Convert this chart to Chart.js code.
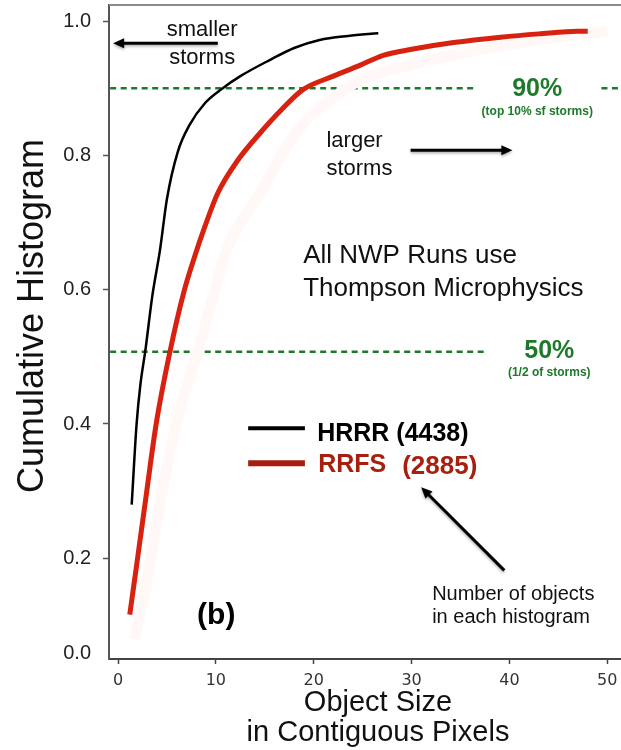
<!DOCTYPE html>
<html>
<head>
<meta charset="utf-8">
<script src="https://cdn.jsdelivr.net/npm/chart.js@4.4.1/dist/chart.umd.min.js"></script>
<style>
  html, body { margin: 0; padding: 0; background: #fff; }
  canvas { display: block; }
</style>
</head>
<body>
<canvas id="cdf" width="621" height="750"></canvas>
<script>
// cumulative histograms of object size (contiguous pixels)
const hrrrX = [1.4, 1.9, 2.3, 2.8, 3.5, 4.3, 5.0, 6.1, 7.3, 8.9, 10.6, 12.5, 15.5, 18, 20.6, 23.5, 26.6];
const hrrrY = [0.28, 0.40, 0.46, 0.51, 0.59, 0.66, 0.735, 0.805, 0.845, 0.878, 0.899, 0.918, 0.942, 0.96, 0.972, 0.978, 0.982];

const rrfsX = [1.2, 2.0, 2.8, 3.9, 5.3, 6.7, 7.8, 8.9, 10.2, 12.2, 14.5, 16.7, 18.9, 22.0, 24.7, 27.1, 30, 34.3, 39.1, 43, 47, 48];
const rrfsY = [0.116, 0.20, 0.285, 0.40, 0.507, 0.595, 0.648, 0.695, 0.744, 0.792, 0.833, 0.868, 0.898, 0.918, 0.934, 0.949, 0.958, 0.968, 0.976, 0.981, 0.985, 0.985];

// faint earlier RRFS run left under the curves
const oldX = [1.7, 3.0, 4.5, 6.3, 8.2, 9.8, 11.1, 14.5, 18.6, 22.7, 24.7, 30, 36, 42, 46, 50];
const oldY = [0.08, 0.17, 0.30, 0.42, 0.51, 0.595, 0.659, 0.744, 0.842, 0.893, 0.912, 0.935, 0.955, 0.97, 0.978, 0.985];

const xTicks = [0, 10, 20, 30, 40, 50];
const yTicks = [0.058, 0.2, 0.4, 0.6, 0.8, 1.0];
const yTickLabels = ['0.0', '0.2', '0.4', '0.6', '0.8', '1.0'];

const top10 = 0.9;   // 90% line
const half = 0.5075; // 50% line

const pts = (xs, ys) => xs.map((v, i) => ({x: v, y: ys[i]}));

const SANS = 'Liberation Sans, Arial, Helvetica, sans-serif';
const GREEN = '#1d7a2b';
const DARKRED = '#a61f0f';

function arrow(ctx, x0, y0, x1, y1) {
  const a = Math.atan2(y1 - y0, x1 - x0);
  const head = 11, wing = 5;
  ctx.save();
  ctx.shadowColor = 'rgba(0,0,0,0.35)';
  ctx.shadowBlur = 3;
  ctx.shadowOffsetY = 1.5;
  ctx.strokeStyle = '#000';
  ctx.fillStyle = '#000';
  ctx.lineWidth = 3;
  ctx.beginPath();
  ctx.moveTo(x0, y0);
  ctx.lineTo(x1 - Math.cos(a) * head * 0.8, y1 - Math.sin(a) * head * 0.8);
  ctx.stroke();
  ctx.beginPath();
  ctx.moveTo(x1, y1);
  ctx.lineTo(x1 - Math.cos(a) * head - Math.sin(a) * wing, y1 - Math.sin(a) * head + Math.cos(a) * wing);
  ctx.lineTo(x1 - Math.cos(a) * head + Math.sin(a) * wing, y1 - Math.sin(a) * head - Math.cos(a) * wing);
  ctx.closePath();
  ctx.fill();
  ctx.restore();
}

function text(ctx, str, x, y, font, color, align) {
  ctx.font = font;
  ctx.fillStyle = color;
  ctx.textAlign = align || 'left';
  ctx.textBaseline = 'alphabetic';
  ctx.fillText(str, x, y);
}

const notes = {
  id: 'notes',
  afterDatasetsDraw(chart) {
    const {ctx, scales} = chart;
    const X = v => scales.x.getPixelForValue(v);
    const Y = v => scales.y.getPixelForValue(v);
    ctx.save();

    // top frame line
    ctx.strokeStyle = '#8a8a8a';
    ctx.lineWidth = 2;
    ctx.beginPath();
    ctx.moveTo(chart.chartArea.left, chart.chartArea.top);
    ctx.lineTo(chart.chartArea.right, chart.chartArea.top);
    ctx.stroke();

    text(ctx, 'smaller', X(8.6), Y(0.978), '22px ' + SANS, '#111', 'center');
    text(ctx, 'storms', X(8.6), Y(0.936), '22px ' + SANS, '#111', 'center');
    arrow(ctx, X(10.2), Y(0.967), X(-0.5), Y(0.967));

    text(ctx, 'larger', X(21.3), Y(0.8123), '22px ' + SANS, '#111');
    text(ctx, 'storms', X(21.3), Y(0.7706), '22px ' + SANS, '#111');
    arrow(ctx, X(29.9), Y(0.8078), X(40.3), Y(0.8078));

    text(ctx, '90%', X(42.84), Y(0.888), 'bold 25px ' + SANS, GREEN, 'center');
    text(ctx, '(top 10% sf storms)', X(42.84), Y(0.86), 'bold 12px ' + SANS, GREEN, 'center');
    text(ctx, '50%', X(44.07), Y(0.498), 'bold 25px ' + SANS, GREEN, 'center');
    text(ctx, '(1/2 of storms)', X(44.07), Y(0.471), 'bold 12px ' + SANS, GREEN, 'center');

    text(ctx, 'All NWP Runs use', X(18.92), Y(0.6395), '26px ' + SANS, '#111');
    text(ctx, 'Thompson Microphysics', X(18.92), Y(0.590), '26px ' + SANS, '#111');

    // legend
    ctx.lineCap = 'butt';
    ctx.strokeStyle = '#000';
    ctx.lineWidth = 4;
    ctx.beginPath();
    ctx.moveTo(X(13.3), Y(0.3937));
    ctx.lineTo(X(19.1), Y(0.3937));
    ctx.stroke();
    ctx.strokeStyle = DARKRED;
    ctx.lineWidth = 6;
    ctx.beginPath();
    ctx.moveTo(X(13.3), Y(0.3415));
    ctx.lineTo(X(19.1), Y(0.3415));
    ctx.stroke();
    text(ctx, 'HRRR (4438)', X(20.35), Y(0.3743), 'bold 25px ' + SANS, '#000');
    text(ctx, 'RRFS', X(20.45), Y(0.328), 'bold 25px ' + SANS, DARKRED);
    text(ctx, '(2885)', X(29.04), Y(0.326), 'bold 26px ' + SANS, DARKRED);
    arrow(ctx, X(39.47), Y(0.182), X(30.98), Y(0.3058));

    text(ctx, 'Number of objects', X(32.1), Y(0.1374), '20px ' + SANS, '#111');
    text(ctx, 'in each histogram', X(32.1), Y(0.1032), '20px ' + SANS, '#111');

    text(ctx, '(b)', X(8.08), Y(0.1017), 'bold 30px ' + SANS, '#000');

    // axis titles
    text(ctx, 'Object Size', 378, 711, '29px ' + SANS, '#111', 'center');
    text(ctx, 'in Contiguous Pixels', 378, 741, '29px ' + SANS, '#111', 'center');
    ctx.save();
    ctx.translate(43, 316);
    ctx.rotate(-Math.PI / 2);
    text(ctx, 'Cumulative Histogram', 0, 0, '36px ' + SANS, '#111', 'center');
    ctx.restore();

    ctx.restore();
  }
};

new Chart(document.getElementById('cdf').getContext('2d'), {
  type: 'line',
  data: {
    datasets: [
      {
        label: 'HRRR',
        data: pts(hrrrX, hrrrY),
        borderColor: '#000',
        borderWidth: 2.5,
        pointRadius: 0,
        cubicInterpolationMode: 'monotone'
      },
      {
        label: 'RRFS',
        data: pts(rrfsX, rrfsY),
        borderColor: '#d8210f',
        borderWidth: 5,
        pointRadius: 0,
        cubicInterpolationMode: 'monotone'
      },
      {
        label: 'old',
        data: pts(oldX, oldY),
        borderColor: '#fff8f7',
        borderWidth: 11,
        pointRadius: 0,
        cubicInterpolationMode: 'monotone'
      },
      {
        label: '90%',
        data: [{x: -0.8, y: top10}, {x: 36.3, y: top10}, {x: 42, y: null}, {x: 49.4, y: top10}, {x: 51.4, y: top10}],
        borderColor: GREEN,
        borderWidth: 2.5,
        borderDash: [6, 4.5],
        pointRadius: 0,
        spanGaps: false
      },
      {
        label: '50%',
        data: [{x: -0.8, y: half}, {x: 37.7, y: half}],
        borderColor: GREEN,
        borderWidth: 2.5,
        borderDash: [6, 4.5],
        pointRadius: 0
      }
    ]
  },
  options: {
    responsive: false,
    animation: false,
    devicePixelRatio: 1,
    layout: { autoPadding: false, padding: { top: 5, right: 0, left: 0, bottom: 0 } },
    plugins: {
      legend: { display: false },
      tooltip: { enabled: false }
    },
    scales: {
      x: {
        type: 'linear',
        min: -0.92,
        max: 51.4,
        afterFit: s => { s.height = 91; s.paddingLeft = 0; s.paddingRight = 0; },
        afterBuildTicks: s => { s.ticks = xTicks.map(v => ({value: v})); },
        ticks: {
          font: { family: 'DejaVu Sans', size: 16 },
          color: '#333',
          padding: 7,
          maxRotation: 0
        },
        grid: {
          drawOnChartArea: false,
          drawTicks: true,
          tickLength: 5,
          tickColor: '#444',
          tickWidth: 1.5
        },
        border: { color: '#444', width: 2 }
      },
      y: {
        min: 0.05,
        max: 1.024,
        afterFit: s => { s.width = 109; s.paddingTop = 0; s.paddingBottom = 0; },
        afterBuildTicks: s => { s.ticks = yTicks.map(v => ({value: v})); },
        ticks: {
          font: { family: SANS, size: 20 },
          color: '#222',
          padding: 12,
          callback: (v, i) => yTickLabels[i]
        },
        grid: {
          drawOnChartArea: false,
          drawTicks: true,
          tickLength: 6,
          tickColor: c => (c.index === 0 ? 'rgba(0,0,0,0)' : '#555'),
          tickWidth: 1.5
        },
        border: { color: '#555', width: 2 }
      }
    }
  },
  plugins: [notes]
});
</script>
</body>
</html>
